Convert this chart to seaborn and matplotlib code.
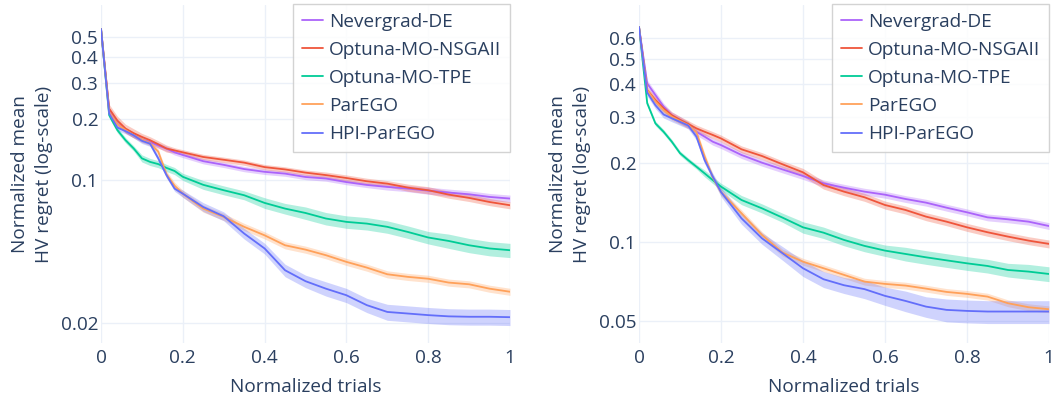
import matplotlib
matplotlib.use('Agg')
import numpy as np
import pandas as pd
import matplotlib.pyplot as plt
import seaborn as sns

# normalized trial positions shared by both panels
trials = [0, 0.02, 0.04, 0.06, 0.08, 0.1, 0.12, 0.14, 0.16, 0.18, 0.2,
          0.25, 0.3, 0.35, 0.4, 0.45, 0.5, 0.55, 0.6, 0.65, 0.7, 0.75,
          0.8, 0.85, 0.9, 0.95, 1.0]

optimizers = ['Nevergrad-DE', 'Optuna-MO-NSGAII', 'Optuna-MO-TPE', 'ParEGO', 'HPI-ParEGO']
colors = ['#AB63FA', '#EF553B', '#00CC96', '#FFA15A', '#636EFA']

# left panel: mean regret
de_left = [0.55, 0.22, 0.189, 0.176, 0.166, 0.158, 0.154, 0.148, 0.143, 0.137, 0.133,
           0.124, 0.119, 0.1135, 0.110, 0.1078, 0.1038, 0.102, 0.098, 0.0949, 0.0928,
           0.0911, 0.0890, 0.0871, 0.0854, 0.0829, 0.0814]
nsga_left = [0.55, 0.224, 0.196, 0.179, 0.170, 0.163, 0.157, 0.150, 0.143, 0.140, 0.137,
             0.130, 0.126, 0.122, 0.116, 0.113, 0.109, 0.106, 0.1026, 0.0989, 0.0963,
             0.0921, 0.0894, 0.0851, 0.0820, 0.0783, 0.0755]
tpe_left = [0.55, 0.208, 0.176, 0.157, 0.143, 0.128, 0.123, 0.120, 0.115, 0.111, 0.104,
            0.095, 0.0894, 0.0845, 0.0775, 0.0727, 0.0692, 0.0650, 0.0626, 0.0614, 0.0592,
            0.0559, 0.0525, 0.0505, 0.0481, 0.0464, 0.0455]
parego_left = [0.55, 0.215, 0.188, 0.176, 0.166, 0.158, 0.152, 0.138, 0.107, 0.094, 0.086,
               0.0727, 0.0662, 0.0592, 0.0538, 0.0481, 0.0458, 0.0430, 0.0399, 0.0374, 0.0347,
               0.0337, 0.0330, 0.0316, 0.0310, 0.0295, 0.0285]
hpi_left = [0.55, 0.212, 0.181, 0.174, 0.166, 0.156, 0.151, 0.128, 0.106, 0.091, 0.086,
            0.074, 0.0667, 0.0549, 0.0464, 0.0363, 0.0321, 0.0295, 0.0274, 0.0245, 0.0227,
            0.0223, 0.0219, 0.0216, 0.0215, 0.0215, 0.0214]

# left panel: relative half-width of the shaded band
de_left_band = [0.01, 0.03, 0.03, 0.03, 0.03, 0.03, 0.03, 0.03, 0.03, 0.03, 0.03, 0.03, 0.03,
                0.03, 0.03, 0.03, 0.03, 0.03, 0.03, 0.03, 0.035, 0.035, 0.04, 0.04, 0.04, 0.04, 0.04]
nsga_left_band = [0.01, 0.05, 0.05, 0.05, 0.05, 0.04, 0.04, 0.04, 0.04, 0.03, 0.03, 0.03, 0.03,
                  0.03, 0.03, 0.03, 0.03, 0.035, 0.035, 0.035, 0.035, 0.04, 0.04, 0.04, 0.04, 0.04, 0.04]
tpe_left_band = [0.01, 0.03, 0.03, 0.03, 0.03, 0.04, 0.04, 0.04, 0.04, 0.04, 0.04, 0.05, 0.05,
                 0.05, 0.06, 0.06, 0.07, 0.07, 0.07, 0.07, 0.07, 0.07, 0.07, 0.08, 0.08, 0.08, 0.08]
parego_left_band = [0.01, 0.03, 0.03, 0.03, 0.03, 0.03, 0.03, 0.03, 0.04, 0.04, 0.04, 0.04, 0.04,
                    0.04, 0.04, 0.04, 0.04, 0.04, 0.04, 0.04, 0.04, 0.04, 0.04, 0.04, 0.04, 0.04, 0.04]
hpi_left_band = [0.01, 0.03, 0.03, 0.03, 0.03, 0.03, 0.03, 0.03, 0.03, 0.03, 0.04, 0.05, 0.05,
                 0.06, 0.06, 0.07, 0.07, 0.08, 0.08, 0.08, 0.09, 0.09, 0.09, 0.09, 0.09, 0.09, 0.09]

# right panel: mean regret
de_right = [0.66, 0.402, 0.363, 0.328, 0.304, 0.292, 0.279, 0.263, 0.252, 0.241, 0.234,
            0.2145, 0.2005, 0.189, 0.1784, 0.1673, 0.161, 0.1555, 0.1514, 0.1458, 0.1412,
            0.1351, 0.1297, 0.1241, 0.122, 0.1195, 0.115]
nsga_right = [0.66, 0.379, 0.3475, 0.323, 0.304, 0.292, 0.2816, 0.271, 0.263, 0.2557, 0.248,
              0.2255, 0.2126, 0.1977, 0.1842, 0.1648, 0.1555, 0.148, 0.1383, 0.1324, 0.1249,
              0.1195, 0.1137, 0.1089, 0.1048, 0.1012, 0.0983]
tpe_right = [0.66, 0.338, 0.283, 0.263, 0.241, 0.218, 0.205, 0.1936, 0.1826, 0.172, 0.1625,
             0.1445, 0.1343, 0.1238, 0.1137, 0.1085, 0.1018, 0.0966, 0.0927, 0.0900, 0.0874,
             0.0851, 0.0829, 0.0810, 0.0782, 0.0771, 0.0755]
parego_right = [0.66, 0.378, 0.343, 0.318, 0.300, 0.289, 0.279, 0.262, 0.212, 0.176, 0.155,
                0.1286, 0.1063, 0.0911, 0.0841, 0.0794, 0.0749, 0.0706, 0.0692, 0.0682, 0.0664,
                0.0645, 0.0634, 0.0619, 0.0584, 0.0564, 0.0554]
hpi_right = [0.66, 0.371, 0.332, 0.306, 0.296, 0.287, 0.278, 0.252, 0.205, 0.1774, 0.155,
             0.123, 0.1032, 0.0906, 0.0794, 0.0721, 0.0684, 0.0661, 0.0623, 0.0596, 0.0567,
             0.0551, 0.0546, 0.0543, 0.0543, 0.0543, 0.0543]

de_right_band = [0.01, 0.03, 0.03, 0.03, 0.03, 0.03, 0.03, 0.03, 0.03, 0.03, 0.03, 0.03, 0.03,
                 0.03, 0.03, 0.03, 0.03, 0.03, 0.03, 0.03, 0.03, 0.03, 0.03, 0.03, 0.03, 0.03, 0.03]
nsga_right_band = [0.01, 0.03, 0.03, 0.03, 0.03, 0.03, 0.03, 0.03, 0.03, 0.03, 0.03, 0.03, 0.03,
                   0.03, 0.035, 0.035, 0.035, 0.035, 0.035, 0.035, 0.035, 0.035, 0.035, 0.035, 0.035, 0.035, 0.035]
tpe_right_band = [0.01, 0.02, 0.02, 0.02, 0.02, 0.02, 0.02, 0.02, 0.03, 0.03, 0.03, 0.04, 0.04,
                  0.04, 0.05, 0.05, 0.05, 0.05, 0.05, 0.06, 0.06, 0.06, 0.06, 0.06, 0.06, 0.065, 0.065]
parego_right_band = [0.01, 0.03, 0.03, 0.03, 0.03, 0.03, 0.03, 0.03, 0.03, 0.03, 0.03, 0.03, 0.03,
                     0.03, 0.03, 0.03, 0.03, 0.03, 0.03, 0.03, 0.03, 0.03, 0.03, 0.03, 0.03, 0.03, 0.03]
hpi_right_band = [0.01, 0.03, 0.03, 0.03, 0.03, 0.03, 0.03, 0.03, 0.03, 0.03, 0.04, 0.05, 0.05,
                  0.06, 0.07, 0.07, 0.07, 0.08, 0.08, 0.09, 0.09, 0.1, 0.1, 0.1, 0.1, 0.1, 0.1]

left_yticks = [0.02, 0.1, 0.2, 0.3, 0.4, 0.5]
right_yticks = [0.05, 0.1, 0.2, 0.3, 0.4, 0.5, 0.6]
xticks = [0, 0.2, 0.4, 0.6, 0.8, 1]
xtick_labels = ['0', '0.2', '0.4', '0.6', '0.8', '1']

sns.set_style('white')
plt.rcParams['font.family'] = ['Open Sans', 'DejaVu Sans']
text_color = '#2a3f5f'
grid_color = '#EBF0F8'
fs = 13.7


def panel(ax, means, bands, yticks, ylim):
    rows = []
    for name, m in zip(optimizers, means):
        rows.append(pd.DataFrame({'trial': trials, 'regret': m, 'optimizer': name}))
    df = pd.concat(rows)

    for m, b, c in zip(means, bands, colors):
        m = np.array(m)
        b = np.array(b)
        ax.fill_between(trials, m * (1 - b), m * (1 + b), color=c, alpha=0.3, lw=0)

    sns.lineplot(data=df, x='trial', y='regret', hue='optimizer', palette=colors,
                 hue_order=optimizers, linewidth=1.3, ax=ax, errorbar=None)

    ax.set_yscale('log')
    ax.set_xlim(0, 1)
    ax.set_ylim(*ylim)
    ax.set_yticks(yticks)
    ax.set_yticklabels([f'{t:g}' for t in yticks])
    ax.yaxis.set_minor_locator(matplotlib.ticker.NullLocator())
    ax.set_xticks(xticks)
    ax.set_xticklabels(xtick_labels)
    ax.grid(True, color=grid_color, linewidth=1)
    ax.set_axisbelow(True)
    for s in ax.spines.values():
        s.set_visible(False)
    ax.tick_params(axis='both', length=0, labelsize=fs, colors=text_color)
    ax.tick_params(axis='y', pad=2)
    ax.tick_params(axis='x', pad=4)
    ax.set_xlabel('Normalized trials', fontsize=fs, color=text_color, labelpad=8)
    ax.set_ylabel('Normalized mean\nHV regret (log-scale)', fontsize=fs, color=text_color,
                  labelpad=5.5, linespacing=1.4)
    sns.move_legend(ax, 'upper right', bbox_to_anchor=(1, 1.002), borderaxespad=0, title=None,
                    fontsize=fs, handlelength=1.15, handletextpad=0.3, labelspacing=0.53,
                    borderpad=0.45, fancybox=False, framealpha=0.85, edgecolor='#cccccc',
                    labelcolor=text_color)
    ax.get_legend().get_frame().set_linewidth(1)


fig = plt.figure(figsize=(10.58, 4), dpi=100)
ax1 = fig.add_axes([101 / 1058, 1 - 343 / 400, 409 / 1058, 338 / 400])
ax2 = fig.add_axes([639 / 1058, 1 - 343 / 400, 410 / 1058, 338 / 400])

panel(ax1, [de_left, nsga_left, tpe_left, parego_left, hpi_left],
      [de_left_band, nsga_left_band, tpe_left_band, parego_left_band, hpi_left_band],
      left_yticks, (0.016, 0.72))
panel(ax2, [de_right, nsga_right, tpe_right, parego_right, hpi_right],
      [de_right_band, nsga_right_band, tpe_right_band, parego_right_band, hpi_right_band],
      right_yticks, (0.0412, 0.80))

fig.savefig('out.png', dpi=100)
